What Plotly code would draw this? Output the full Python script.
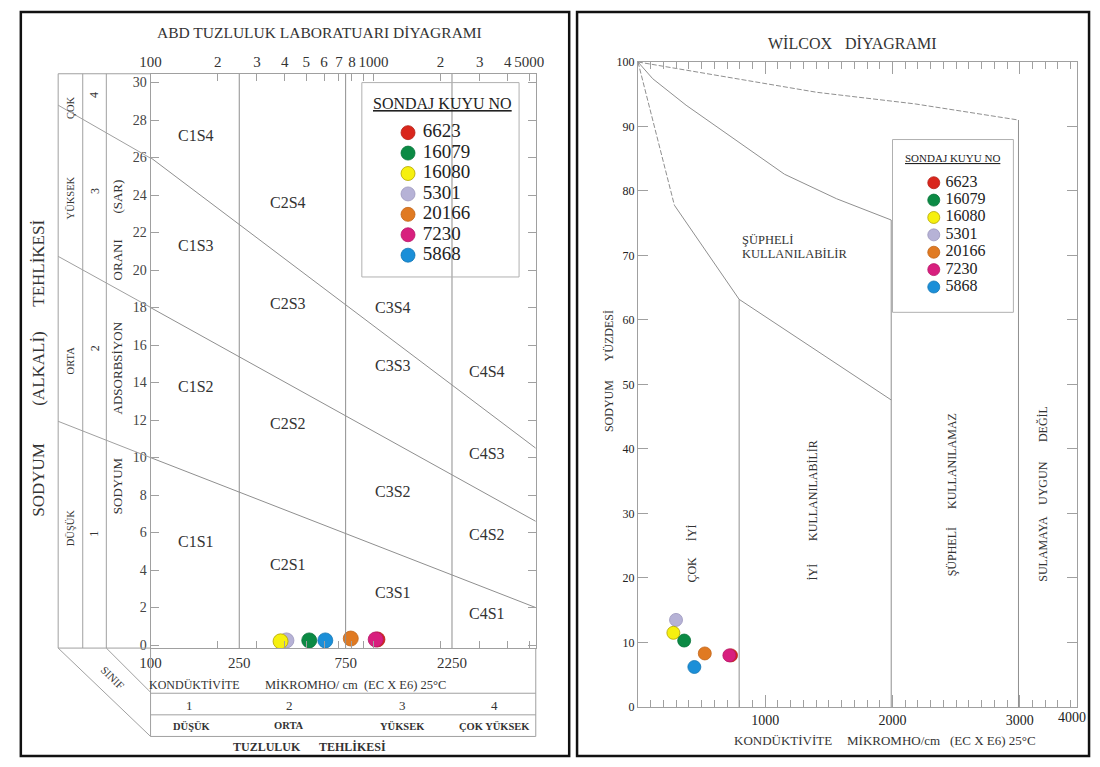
import math
import plotly.graph_objects as go

W, H = 1100, 767
SERIF = "Liberation Serif"
TXT = "#333333"
GRID = "#a0a0a0"


def fx(p):
    return p / W


def fy(p):
    return 1 - p / H


# ------------------------------------------------------------------ data
wells = ["6623", "16079", "16080", "5301", "20166", "7230", "5868"]
well_colors = ["#d9261c", "#0b8a44", "#f6f00f", "#b6b2d6", "#e07a22", "#d81f7e", "#1b8fd8"]
well_edges = ["#b51f17", "#08733a", "#b3a300", "#9a96bd", "#c2661a", "#b8186a", "#1577b5"]

# US Salinity Laboratory diagram (EC micromho/cm, SAR)
usl_ec = [1042, 515, 383, 407, 791, 1023, 608]
usl_sar = [0.30, 0.25, 0.20, 0.25, 0.35, 0.30, 0.25]

# Wilcox diagram (EC micromho/cm, Na %)
wil_ec = [731, 363, 278, 299, 525, 718, 443]
wil_na = [8.0, 10.3, 11.5, 13.5, 8.3, 8.0, 6.2]

draw_order = [0, 1, 3, 2, 4, 5, 6]

# USSL class boundaries
EC_MIN, EC_MAX = 100, 5346
SAR_MIN, SAR_MAX = -0.16, 30.47
edge_ec = [EC_MIN, EC_MAX]
s12_sar = [10.0, 2.0]
s23_sar = [18.0, 6.6]
s34_sar = [26.0, 10.5]
class_ec = [250, 750, 2250]

top_tick_vals = [100, 200, 300, 400, 500, 600, 700, 800, 900, 1000, 2000, 3000, 4000, 5000]
top_tick_text = ["100", "2", "3", "4", "5", "6", "7", "8", "", "1000", "2", "3", "4", "5000"]
bottom_tick_vals = [100, 250, 750, 2250]

zone_labels = ["C1S4", "C2S4", "C1S3", "C2S3", "C3S4", "C1S2", "C3S3", "C4S4",
               "C2S2", "C4S3", "C3S2", "C1S1", "C2S1", "C4S2", "C3S1", "C4S1"]
zone_ec = [160, 415, 160, 415, 1225, 160, 1225, 3228,
           415, 3228, 1225, 160, 415, 3228, 1225, 3228]
zone_sar = [27.2, 23.6, 21.3, 18.2, 18.0, 13.8, 14.9, 14.6,
            11.8, 10.2, 8.2, 5.5, 4.3, 5.9, 2.8, 1.7]

# Wilcox boundaries
wil_a_ec = [0, 270, 888, 1405, 2178, 2990]
wil_a_na = [100, 99.1, 97.1, 95.3, 93.5, 91.0]
wil_a2_ec = [2990, 2990]
wil_a2_na = [91.0, 0]
wil_b_ec = [0, 116, 378, 710, 1151, 1560, 1990, 1990]
wil_b_na = [100, 97.4, 93.3, 88.7, 82.6, 78.8, 75.5, 0]
wil_c1_ec = [0, 286]
wil_c1_na = [100, 77.8]
wil_c2_ec = [286, 795, 1990]
wil_c2_na = [77.8, 63.2, 47.6]
wil_d_ec = [795, 795]
wil_d_na = [63.2, 0]

WIL_EC_MAX = 3452

fig = go.Figure()
line_style = dict(color="#8f8f8f", width=1)

# ---------------- left chart lines
for s in (s12_sar, s23_sar, s34_sar):
    fig.add_trace(go.Scatter(x=edge_ec, y=s, mode="lines", line=line_style,
                             xaxis="x", yaxis="y", hoverinfo="skip", showlegend=False))
# salinity class limits drawn on the bottom (labelled) axis
for c in class_ec:
    fig.add_trace(go.Scatter(x=[c, c], y=[SAR_MIN, SAR_MAX], mode="lines", line=line_style,
                             xaxis="x2", yaxis="y", hoverinfo="skip", showlegend=False))

for i in draw_order:
    fig.add_trace(go.Scatter(x=[usl_ec[i]], y=[usl_sar[i]], mode="markers", name=wells[i],
                             marker=dict(size=15, color=well_colors[i],
                                         line=dict(color=well_edges[i], width=0.8)),
                             xaxis="x", yaxis="y", showlegend=False))

# ---------------- right chart lines
fig.add_trace(go.Scatter(x=wil_a_ec, y=wil_a_na, mode="lines",
                         line=dict(color="#8f8f8f", width=1, dash="5px,2px"),
                         xaxis="x4", yaxis="y4", hoverinfo="skip", showlegend=False))
fig.add_trace(go.Scatter(x=wil_c1_ec, y=wil_c1_na, mode="lines",
                         line=dict(color="#8f8f8f", width=1, dash="5px,2px"),
                         xaxis="x4", yaxis="y4", hoverinfo="skip", showlegend=False))
for ex, ny in ((wil_a2_ec, wil_a2_na), (wil_b_ec, wil_b_na), (wil_c2_ec, wil_c2_na), (wil_d_ec, wil_d_na)):
    fig.add_trace(go.Scatter(x=ex, y=ny, mode="lines", line=line_style,
                             xaxis="x4", yaxis="y4", hoverinfo="skip", showlegend=False))

for i in draw_order:
    fig.add_trace(go.Scatter(x=[wil_ec[i]], y=[wil_na[i]], mode="markers", name=wells[i],
                             marker=dict(size=13, color=well_colors[i],
                                         line=dict(color=well_edges[i], width=0.8)),
                             xaxis="x4", yaxis="y4", showlegend=False))

# ---------------- legends (drawn on helper axes, positions from list index)
idx = list(range(len(wells)))
fig.add_trace(go.Scatter(x=[47] * len(wells), y=[51 + 20.8 * k for k in idx], mode="markers",
                         marker=dict(size=14, color=well_colors, line=dict(color=well_edges, width=0.8)),
                         xaxis="x3", yaxis="y3", hoverinfo="skip", showlegend=False))
fig.add_trace(go.Scatter(x=[62] * len(wells), y=[51 + 20.8 * k for k in idx], mode="text",
                         text=wells, textposition="middle right",
                         textfont=dict(family=SERIF, size=19, color="#222"),
                         xaxis="x3", yaxis="y3", hoverinfo="skip", showlegend=False))
fig.add_trace(go.Scatter(x=[42] * len(wells), y=[44 + 17.7 * k for k in idx], mode="markers",
                         marker=dict(size=12, color=well_colors, line=dict(color=well_edges, width=0.8)),
                         xaxis="x5", yaxis="y5", hoverinfo="skip", showlegend=False))
fig.add_trace(go.Scatter(x=[54] * len(wells), y=[44 + 17.7 * k for k in idx], mode="text",
                         text=wells, textposition="middle right",
                         textfont=dict(family=SERIF, size=16, color="#222"),
                         xaxis="x5", yaxis="y5", hoverinfo="skip", showlegend=False))

# ---------------- shapes
shapes = []


def seg(x0, y0, x1, y1, color=GRID, width=1):
    shapes.append(dict(type="line", xref="paper", yref="paper", x0=fx(x0), y0=fy(y0), x1=fx(x1), y1=fy(y1),
                       line=dict(color=color, width=width)))


def rect(x0, y0, x1, y1, color, width):
    shapes.append(dict(type="rect", xref="paper", yref="paper", x0=fx(x0), y0=fy(y0), x1=fx(x1), y1=fy(y1),
                       line=dict(color=color, width=width), fillcolor="rgba(0,0,0,0)"))


# panel borders
rect(10, 5, 568, 763, "#111", 2.5)
rect(576, 5, 1097, 763, "#111", 2.5)

# left label columns
for xc in (48, 73, 97):
    seg(xc, 68, xc, 653)
seg(48, 68, 142, 68)
seg(48, 653, 142, 653)
# boundary extensions across the label columns
seg(48, 422, 142, 459)
seg(48, 254, 142, 306)
seg(48, 100, 142, 154)
# SINIF diagonals
seg(48, 653, 142, 743)
seg(97, 653, 142, 698)
# bottom table
seg(142, 653, 142, 743)
seg(534, 653, 534, 743)
for yy in (699, 721, 743):
    seg(142, yy, 534, yy)
for c in class_ec:
    shapes.append(dict(type="line", xref="x", yref="paper", x0=math.log10(c), x1=math.log10(c),
                       y0=fy(699), y1=fy(743), line=dict(color=GRID, width=1)))
# legend boxes
rect(357, 77, 517, 275, "#b0b0b0", 1)
rect(897, 135, 1020, 311, "#b0b0b0", 1)

# ---------------- annotations
anns = []


def annp(text, x, y, size=13, angle=0, xanchor="center", color=TXT):
    anns.append(dict(text=text, x=fx(x), y=fy(y), xref="paper", yref="paper", showarrow=False,
                     textangle=angle, xanchor=xanchor, yanchor="middle",
                     font=dict(family=SERIF, size=size, color=color)))


annp("ABD TUZLULUK LABORATUARI DİYAGRAMI", 314, 26, 15.5)
annp("SODYUM", 28, 482, 17, -90)
annp("(ALKALİ)", 28, 368, 17, -90)
annp("TEHLİKESİ", 28, 261, 17, -90)
annp("SODYUM", 108, 488, 13, -90)
annp("ADSORBSİYON", 108, 368, 13, -90)
annp("ORANI", 108, 258, 13, -90)
annp("(SAR)", 108, 193, 13, -90)
for t, yy in (("ÇOK", 102), ("YÜKSEK", 194), ("ORTA", 360), ("DÜŞÜK", 530)):
    annp(t, 60, yy, 10.5, -90)
for t, yy in (("4", 90), ("3", 188), ("2", 348), ("1", 537)):
    annp(t, 85, yy, 12, -90)
annp("SINIF", 104, 683, 11, 45)
annp("KONDÜKTİVİTE", 187, 691, 12)
annp("MİKROMHO/ cm  (EC X E6) 25°C", 351, 691, 12.5)
for t, xx in (("1", 182), ("2", 283), ("3", 398), ("4", 492)):
    annp(t, xx, 711, 13)
for t, xx in (("DÜŞÜK", 184), ("ORTA", 283), ("YÜKSEK", 398), ("ÇOK YÜKSEK", 492)):
    annp("<b>" + t + "</b>", xx, 732, 10.5)
annp("<b>TUZLULUK</b>", 260, 754, 12)
annp("<b>TEHLİKESİ</b>", 347, 754, 12)
annp("<u>SONDAJ KUYU NO</u>", 439, 98, 16, color="#222")

for t, e, s in zip(zone_labels, zone_ec, zone_sar):
    anns.append(dict(text=t, x=math.log10(e), y=s, xref="x", yref="y", showarrow=False,
                     font=dict(family=SERIF, size=16, color=TXT)))

# right chart text
annp("WİLCOX", 803, 37, 16)
annp("DİYAGRAMI", 895, 37, 16)
annp("SODYUM", 608, 406, 12, -90)
annp("YÜZDESİ", 608, 335, 12, -90)
annp("KONDÜKTİVİTE", 786, 747, 13)
annp("MİKROMHO/cm", 898, 747, 13)
annp("(EC X E6) 25°C", 999, 747, 13)
annp("4000", 1080, 724, 14, color="#222")
annp("ŞÜPHELİ", 742, 237, 12.5, xanchor="left")
annp("KULLANILABİLİR", 742, 252, 12.5, xanchor="left")
for t, xx, yy in (("ÇOK", 693, 573), ("İYİ", 693, 536),
                  ("İYİ", 816, 575), ("KULLANILABİLİR", 816, 492),
                  ("ŞÜPHELİ", 957, 555), ("KULLANILAMAZ", 957, 462),
                  ("SULAMAYA", 1050, 552), ("UYGUN", 1050, 485), ("DEĞİL", 1050, 425)):
    annp(t, xx, yy, 12, -90)
annp("<u>SONDAJ KUYU NO</u>", 958, 154, 11, color="#222")

tickfont_l = dict(family=SERIF, size=14, color="#444")

fig.update_layout(
    width=W, height=H, margin=dict(l=0, r=0, t=0, b=0),
    paper_bgcolor="white", plot_bgcolor="rgba(0,0,0,0)",
    showlegend=False,
    xaxis=dict(type="log", range=[math.log10(EC_MIN), math.log10(EC_MAX)],
               domain=[fx(142), fx(534)], anchor="y", side="top",
               tickmode="array", tickvals=top_tick_vals, ticktext=top_tick_text, tickangle=0,
               ticks="inside", ticklen=7, tickcolor=GRID, showline=True, linecolor=GRID,
               mirror="ticks", showgrid=False, zeroline=False,
               tickfont=dict(family=SERIF, size=15, color="#333"), fixedrange=True),
    xaxis2=dict(type="log", range=[math.log10(EC_MIN), math.log10(EC_MAX)],
                overlaying="x", side="bottom", anchor="y", tickangle=0,
                tickmode="array", tickvals=bottom_tick_vals, ticks="", showline=False,
                showgrid=False, zeroline=False, ticklabelstandoff=4,
                tickfont=dict(family=SERIF, size=15, color="#333"), fixedrange=True),
    yaxis=dict(range=[SAR_MIN, SAR_MAX], domain=[fy(653), fy(68)], anchor="x",
               tickmode="array", tickvals=list(range(0, 31, 2)),
               ticks="inside", ticklen=8, tickcolor=GRID, showline=True, linecolor=GRID,
               mirror="ticks", showgrid=False, zeroline=False, tickfont=tickfont_l,
               fixedrange=True),
    xaxis3=dict(range=[0, 160], domain=[fx(357), fx(517)], anchor="y3", visible=False, fixedrange=True),
    yaxis3=dict(range=[198, 0], domain=[fy(275), fy(77)], anchor="x3", visible=False, fixedrange=True),
    xaxis4=dict(range=[0, WIL_EC_MAX], domain=[fx(638), fx(1085)], anchor="y4",
                tickmode="array", tickvals=[1000, 2000, 3000], tickangle=0,
                ticks="inside", ticklen=12, tickcolor=GRID, showline=True, linecolor=GRID,
                mirror="ticks", showgrid=False, zeroline=False,
                minor=dict(tickmode="linear", tick0=0, dtick=100, ticks="inside", ticklen=7,
                           tickcolor=GRID, showgrid=False),
                tickfont=dict(family=SERIF, size=14, color="#222"), fixedrange=True),
    yaxis4=dict(range=[0, 100], domain=[fy(713), fy(56)], anchor="x4",
                tickmode="array", tickvals=list(range(0, 101, 10)),
                ticks="inside", ticklen=10, tickcolor=GRID, showline=True, linecolor=GRID,
                mirror="ticks", showgrid=False, zeroline=False,
                tickfont=dict(family=SERIF, size=12, color="#222"), fixedrange=True),
    xaxis5=dict(range=[0, 123], domain=[fx(897), fx(1020)], anchor="y5", visible=False, fixedrange=True),
    yaxis5=dict(range=[176, 0], domain=[fy(311), fy(135)], anchor="x5", visible=False, fixedrange=True),
    shapes=shapes,
    annotations=anns,
)

fig.write_html("out.html", config={"displayModeBar": False},
               post_script="document.body.style.margin='0';document.body.style.overflow='hidden';")
